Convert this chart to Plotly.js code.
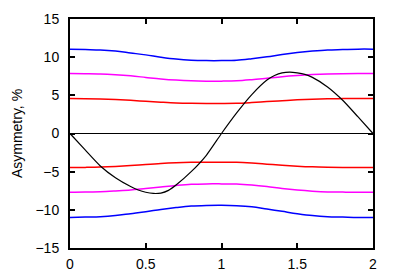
<!DOCTYPE html>
<html>
<head>
<meta charset="utf-8">
<script src="https://cdn.plot.ly/plotly-3.0.1.min.js"></script>
<style>html,body{margin:0;padding:0;background:#fff;}#chart{width:400px;height:280px;}</style>
</head>
<body>
<div id="chart"></div>
<script>
const xs = [0,0.1,0.2,0.3,0.4,0.5,0.6,0.7,0.8,0.9,1.0,1.1,1.2,1.3,1.4,1.5,1.6,1.7,1.8,1.9,2.0];
const blueUpper   = [11.05,11.0,10.95,10.8,10.55,10.3,10.0,9.75,9.6,9.55,9.55,9.6,9.8,10.05,10.35,10.6,10.8,10.95,11.0,11.05,11.05];
const blueLower   = [-11.0,-10.95,-10.9,-10.75,-10.5,-10.25,-9.95,-9.7,-9.5,-9.42,-9.4,-9.45,-9.6,-9.9,-10.2,-10.5,-10.75,-10.9,-10.95,-11.0,-11.0];
const magUpper    = [7.85,7.83,7.8,7.7,7.55,7.35,7.15,7.0,6.9,6.86,6.86,6.9,7.05,7.25,7.45,7.6,7.72,7.8,7.84,7.86,7.86];
const magLower    = [-7.7,-7.68,-7.62,-7.52,-7.4,-7.2,-7.0,-6.8,-6.65,-6.6,-6.6,-6.62,-6.75,-6.95,-7.2,-7.4,-7.55,-7.65,-7.68,-7.7,-7.7];
const redUpper    = [4.58,4.56,4.52,4.45,4.35,4.22,4.1,4.0,3.95,3.93,3.93,3.95,4.05,4.18,4.3,4.42,4.5,4.55,4.57,4.58,4.58];
const redLower    = [-4.46,-4.44,-4.4,-4.32,-4.2,-4.05,-3.92,-3.83,-3.78,-3.76,-3.76,-3.78,-3.88,-4.02,-4.16,-4.28,-4.37,-4.42,-4.45,-4.46,-4.46];
const asymX = [0,0.1,0.2,0.3,0.4,0.45,0.5,0.55,0.6,0.65,0.7,0.8,0.9,1.0,1.1,1.2,1.3,1.35,1.4,1.45,1.5,1.55,1.6,1.7,1.8,1.9,2.0];
const asymY = [0,-2.15,-4.25,-5.8,-6.95,-7.4,-7.7,-7.85,-7.8,-7.45,-6.75,-5.0,-2.85,0,2.7,5.1,7.0,7.6,7.95,8.05,7.95,7.75,7.35,6.1,4.35,2.2,0];

const envelope = (y, c) => ({x: xs, y: y, mode: 'lines', line: {color: c, width: 1.5, shape: 'spline'}, hoverinfo: 'skip'});
const data = [
  envelope(blueUpper, '#0000ff'), envelope(blueLower, '#0000ff'),
  envelope(magUpper, '#ff00ff'), envelope(magLower, '#ff00ff'),
  envelope(redUpper, '#ff0000'), envelope(redLower, '#ff0000'),
  {x: asymX, y: asymY, mode: 'lines', line: {color: '#000000', width: 1.2, shape: 'spline', smoothing: 0.6}, hoverinfo: 'skip'}
];
const axisCommon = {
  showline: true, linecolor: '#000', linewidth: 2, mirror: 'ticks',
  ticks: 'inside', ticklen: 5, tickwidth: 2, tickcolor: '#000',
  showgrid: false, tickfont: {family: 'Liberation Sans, Arial, sans-serif', size: 14, color: '#000'}
};
const layout = {
  width: 400, height: 280,
  margin: {l: 70, r: 27, t: 19, b: 32},
  showlegend: false,
  paper_bgcolor: '#fff', plot_bgcolor: '#fff',
  xaxis: Object.assign({}, axisCommon, {range: [0, 2], dtick: 0.5, tick0: 0, zeroline: false, ticklabelstandoff: 2}),
  yaxis: Object.assign({}, axisCommon, {range: [-15, 15], dtick: 5, tick0: 0, ticklabelstandoff: 6,
    zeroline: true, zerolinecolor: '#000', zerolinewidth: 1,
    title: {text: 'Asymmetry, %', font: {family: 'Liberation Sans, Arial, sans-serif', size: 14, color: '#000'}, standoff: 10}})
};
Plotly.newPlot('chart', data, layout, {staticPlot: true, displayModeBar: false});
</script>
</body>
</html>
